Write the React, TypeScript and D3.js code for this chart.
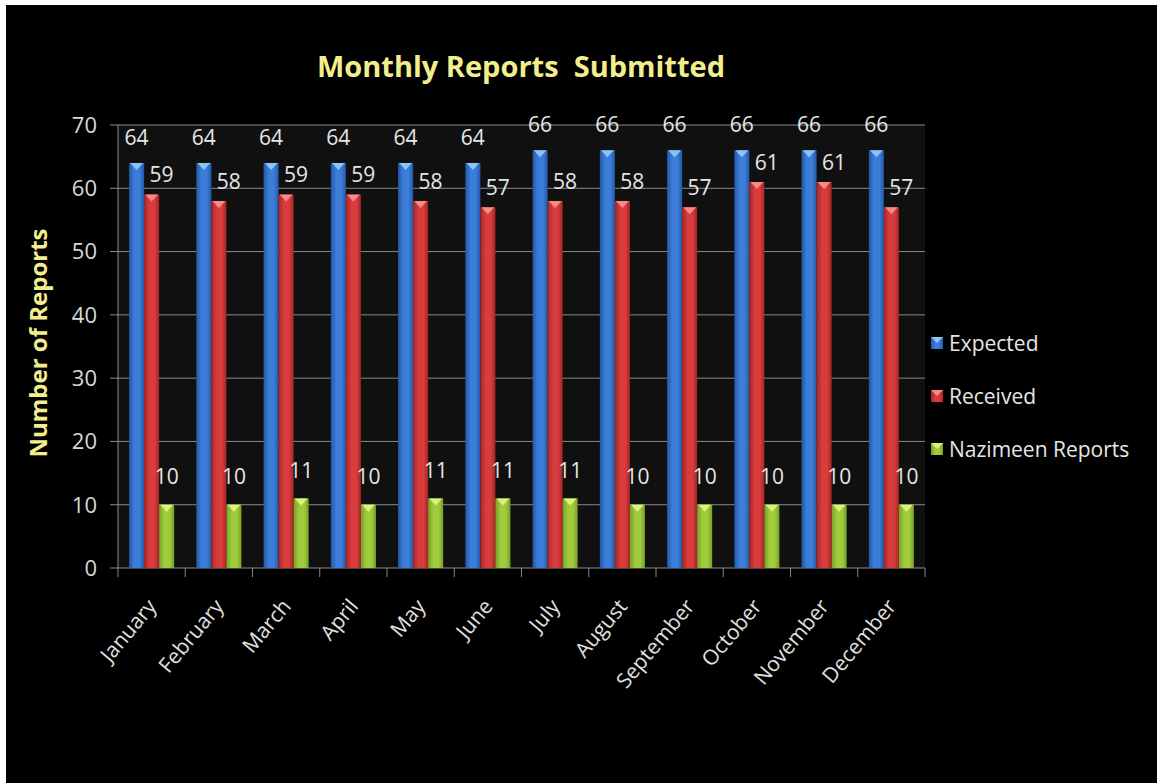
import * as d3 from 'd3';

const months = ['January', 'February', 'March', 'April', 'May', 'June', 'July', 'August', 'September', 'October', 'November', 'December'];
const seriesNames = ['Expected', 'Received', 'Nazimeen Reports'];
const expected = [64, 64, 64, 64, 64, 64, 66, 66, 66, 66, 66, 66];
const received = [59, 58, 59, 59, 58, 57, 58, 58, 57, 61, 61, 57];
const nazimeen = [10, 10, 11, 10, 11, 11, 11, 10, 10, 10, 10, 10];
const yTicks = [0, 10, 20, 30, 40, 50, 60, 70];

const W = 1157;
const H = 783;
const plot = { left: 118, right: 925, top: 125, bottom: 568 };
const font = '"Open Sans", "Noto Sans", sans-serif';

// main colour, dark edge, light top cap, label x shift, label gap above bar
const looks = [
  { fill: '#3b7dd8', edge: '#2458a6', cap: '#8cc4f5', dx: 0, gap: 26 },
  { fill: '#d83c3c', edge: '#a52525', cap: '#f58a86', dx: 10, gap: 20 },
  { fill: '#9fcb3c', edge: '#78a026', cap: '#dcf27a', dx: 0, gap: 28 },
];

export default function App() {
  const values = [expected, received, nazimeen];

  const x = d3.scaleBand<string>().domain(months).range([plot.left, plot.right]);
  const x1 = d3.scaleBand<string>()
    .domain(seriesNames)
    .range([0, x.bandwidth()])
    .paddingInner(0)
    .paddingOuter(0.74);
  const y = d3.scaleLinear().domain([0, 70]).range([plot.bottom, plot.top]);
  const bw = x1.bandwidth();

  return (
    <svg width={W} height={H} style={{ position: 'absolute', left: 0, top: 0 }}>
      <defs>
        {looks.map((l, i) => (
          <linearGradient key={i} id={`g${i}`} x1="0" x2="1" y1="0" y2="0">
            <stop offset="0" stopColor={l.edge} />
            <stop offset="0.35" stopColor={l.fill} />
            <stop offset="0.7" stopColor={l.fill} />
            <stop offset="1" stopColor={l.edge} />
          </linearGradient>
        ))}
      </defs>
      <rect width={W} height={H} fill="#ffffff" />
      <rect x={6} y={5} width={W - 6} height={H - 5} fill="#000000" />
      <rect x={plot.left} y={plot.top} width={plot.right - plot.left} height={plot.bottom - plot.top} fill="#101010" />

      {/* title */}
      <text x={521} y={77} textAnchor="middle" fill="#f2ee8e" fontFamily={font} fontWeight="bold" fontSize={29} xmlSpace="preserve">
        Monthly Reports  Submitted
      </text>

      {/* y axis title */}
      <text transform={`translate(47,343) rotate(-90)`} textAnchor="middle" fill="#f2ee8e" fontFamily={font} fontWeight="bold" fontSize={24}>
        Number of Reports
      </text>

      {/* gridlines + y ticks */}
      {yTicks.map((t) => (
        <g key={t}>
          <line x1={plot.left - 8} x2={plot.right} y1={y(t)} y2={y(t)} stroke="#8a8a8a" strokeWidth={1} />
          <text x={97} y={y(t)} dy="0.36em" textAnchor="end" fill="#d8d8d8" fontFamily={font} fontSize={22}>
            {t}
          </text>
        </g>
      ))}
      <line x1={plot.left} x2={plot.left} y1={plot.top} y2={plot.bottom} stroke="#8a8a8a" />

      {/* x ticks */}
      {months.concat(['end']).map((m, i) => {
        const xx = plot.left + i * x.step();
        return <line key={m} x1={xx} x2={xx} y1={plot.bottom} y2={plot.bottom + 9} stroke="#8a8a8a" />;
      })}

      {/* bars */}
      {values.map((vals, s) => (
        <g key={seriesNames[s]}>
          {vals.map((v, i) => {
            const bx = (x(months[i]) as number) + (x1(seriesNames[s]) as number);
            const top = y(v);
            return (
              <g key={i}>
                <rect x={bx} y={top} width={bw} height={y(0) - top} fill={`url(#g${s})`} />
                <polygon points={`${bx + 1},${top} ${bx + bw - 1},${top} ${bx + bw / 2},${top + 7}`} fill={looks[s].cap} />
              </g>
            );
          })}
        </g>
      ))}

      {/* value labels */}
      {values.map((vals, s) => (
        <g key={`l${s}`}>
          {vals.map((v, i) => {
            const cx = (x(months[i]) as number) + (x1(seriesNames[s]) as number) + bw / 2 + looks[s].dx;
            return (
              <text key={i} x={cx} y={y(v) - looks[s].gap} dy="0.36em" textAnchor="middle" fill="#e6e6e6" fontFamily={font} fontSize={21}>
                {v}
              </text>
            );
          })}
        </g>
      ))}

      {/* month labels */}
      {months.map((m) => {
        const cx = (x(m) as number) + x.bandwidth() / 2;
        return (
          <text key={m} transform={`translate(${cx + 6},${plot.bottom + 39}) rotate(-50)`} textAnchor="end" fill="#e0e0e0" fontFamily={font} fontSize={21}>
            {m}
          </text>
        );
      })}

      {/* legend */}
      {seriesNames.map((n, s) => {
        const ly = 343 + s * 53;
        return (
          <g key={n}>
            <rect x={931} y={ly - 6} width={12} height={12} fill={`url(#g${s})`} />
            <polygon points={`931,${ly - 6} 943,${ly - 6} 937,${ly}`} fill={looks[s].cap} />
            <text x={949} y={ly} dy="0.36em" fill="#e6e6e6" fontFamily={font} fontSize={21}>
              {n}
            </text>
          </g>
        );
      })}
    </svg>
  );
}
